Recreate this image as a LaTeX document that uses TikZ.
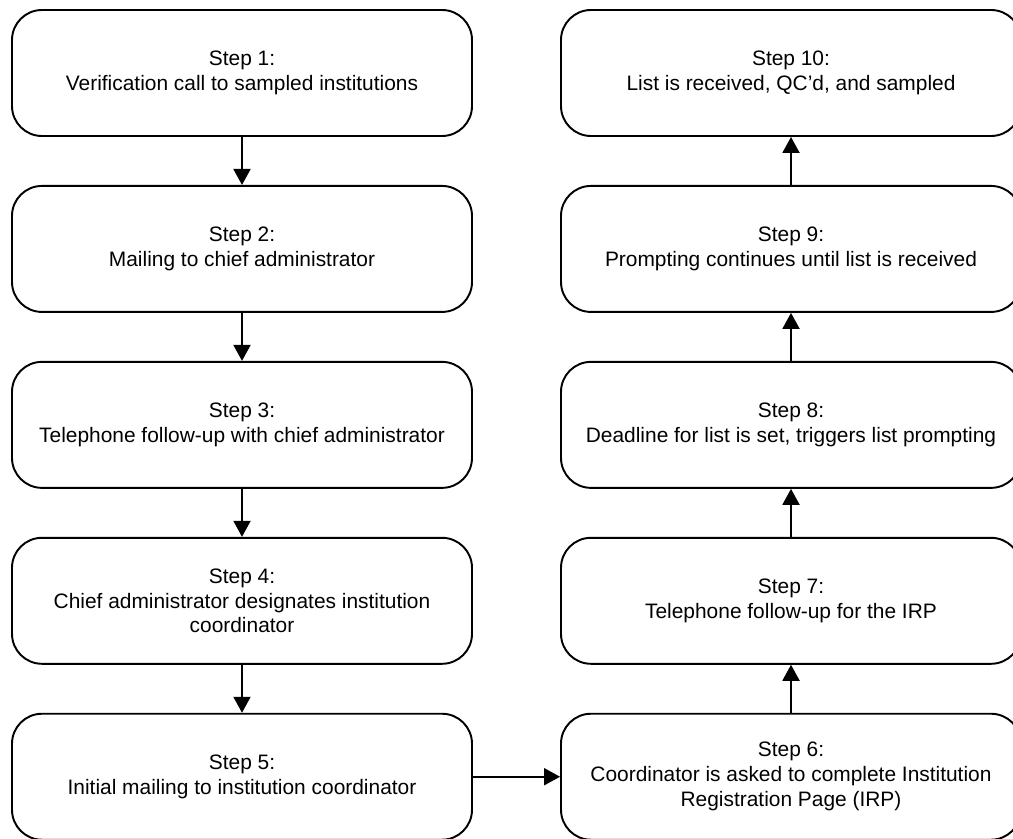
\documentclass[tikz,border=0pt]{standalone}
\usepackage{fontspec}
\setmainfont{Liberation Sans}
\usetikzlibrary{positioning,arrows.meta}

\tikzset{
  stepbox/.style={draw, line width=1.1pt, rounded corners=0.6cm,
    minimum width=9.2cm, minimum height=2.52cm, inner sep=0pt,
    align=center, font=\fontsize{11.9}{14.2}\selectfont},
  flow/.style={line width=1.1pt, -{Triangle[width=0.34cm,length=0.32cm]}}
}

\begin{document}
\begin{tikzpicture}[node distance=0.96cm]
        %\draw [help lines] (0,0) grid (20,-17);
        \useasboundingbox (0,0) rectangle (20.26,-16.78);

        % left column, going down
        \node [stepbox] (s1) at (4.84,-1.46) {Step 1:\\Verification call to sampled institutions};
        \node [stepbox, below=of s1] (s2) {Step 2:\\Mailing to chief administrator};
        \node [stepbox, below=of s2] (s3) {Step 3:\\Telephone follow-up with chief administrator};
        \node [stepbox, below=of s3] (s4) {Step 4:\\Chief administrator designates institution\\coordinator};
        \node [stepbox, below=of s4] (s5) {Step 5:\\Initial mailing to institution coordinator};

        % right column, going up
        \node [stepbox] (s10) at (15.82,-1.46) {Step 10:\\List is received, QC’d, and sampled};
        \node [stepbox, below=of s10] (s9) {Step 9:\\Prompting continues until list is received};
        \node [stepbox, below=of s9] (s8) {Step 8:\\Deadline for list is set, triggers list prompting};
        \node [stepbox, below=of s8] (s7) {Step 7:\\Telephone follow-up for the IRP};
        \node [stepbox, below=of s7] (s6) {Step 6:\\Coordinator is asked to complete Institution\\Registration Page (IRP)};

        \draw [flow] (s1) -- (s2);
        \draw [flow] (s2) -- (s3);
        \draw [flow] (s3) -- (s4);
        \draw [flow] (s4) -- (s5);
        \draw [flow] (s5) -- (s6);
        \draw [flow] (s6) -- (s7);
        \draw [flow] (s7) -- (s8);
        \draw [flow] (s8) -- (s9);
        \draw [flow] (s9) -- (s10);
    \end{tikzpicture}
\end{document}
